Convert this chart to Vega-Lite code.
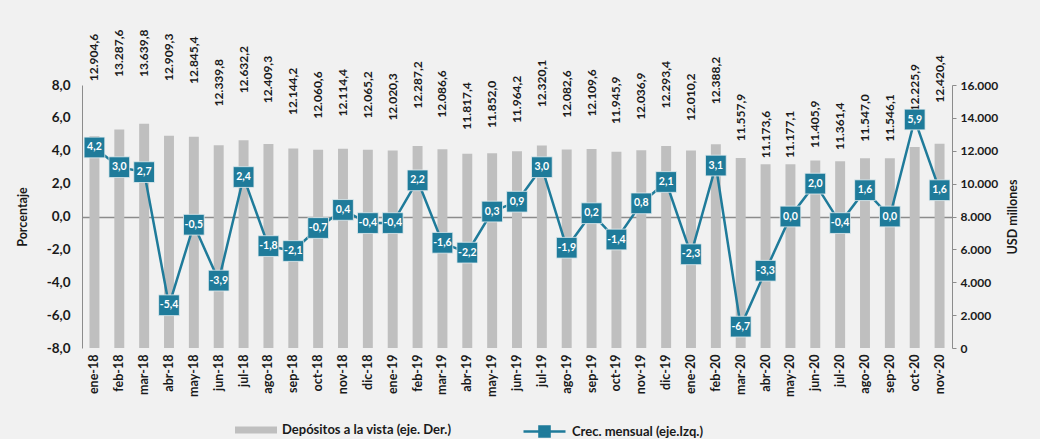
{
  "$schema": "https://vega.github.io/schema/vega-lite/v6.json",
  "width": 870,
  "height": 263,
  "autosize": {"type": "none"},
  "padding": {"left": 82, "top": 85, "right": 88, "bottom": 91},
  "background": "#f1f1f1",
  "config": {
    "locale": {"number": {"decimal": ",", "thousands": ".", "grouping": [3], "currency": ["$", ""], "minus": "-"}},
    "view": {"stroke": null},
    "font": "Lato",
    "axis": {"labelFont": "Lato", "labelFontWeight": "bold", "labelColor": "#1a1a1a", "titleFont": "Lato", "titleFontWeight": "bold", "titleColor": "#1a1a1a", "grid": false, "domainColor": "#8c8c8c", "tickColor": "#8c8c8c", "labelOverlap": false},
    "legend": {"labelFont": "Lato", "labelFontWeight": "bold", "labelFontSize": 13, "labelColor": "#1a1a1a", "padding": 0, "labelOffset": 5, "labelLimit": 400}
  },
  "data": {"values": [
    {"mes": "ene-18", "depositos": 12904.6, "crec": 4.2},
    {"mes": "feb-18", "depositos": 13287.6, "crec": 3.0},
    {"mes": "mar-18", "depositos": 13639.8, "crec": 2.7},
    {"mes": "abr-18", "depositos": 12909.3, "crec": -5.4},
    {"mes": "may-18", "depositos": 12845.4, "crec": -0.5},
    {"mes": "jun-18", "depositos": 12339.8, "crec": -3.9},
    {"mes": "jul-18", "depositos": 12632.2, "crec": 2.4},
    {"mes": "ago-18", "depositos": 12409.3, "crec": -1.8},
    {"mes": "sep-18", "depositos": 12144.2, "crec": -2.1},
    {"mes": "oct-18", "depositos": 12060.6, "crec": -0.7},
    {"mes": "nov-18", "depositos": 12114.4, "crec": 0.4},
    {"mes": "dic-18", "depositos": 12065.2, "crec": -0.4},
    {"mes": "ene-19", "depositos": 12020.3, "crec": -0.4},
    {"mes": "feb-19", "depositos": 12287.2, "crec": 2.2},
    {"mes": "mar-19", "depositos": 12086.6, "crec": -1.6},
    {"mes": "abr-19", "depositos": 11817.4, "crec": -2.2},
    {"mes": "may-19", "depositos": 11852.0, "crec": 0.3},
    {"mes": "jun-19", "depositos": 11964.2, "crec": 0.9},
    {"mes": "jul-19", "depositos": 12320.1, "crec": 3.0},
    {"mes": "ago-19", "depositos": 12082.6, "crec": -1.9},
    {"mes": "sep-19", "depositos": 12109.6, "crec": 0.2},
    {"mes": "oct-19", "depositos": 11945.9, "crec": -1.4},
    {"mes": "nov-19", "depositos": 12036.9, "crec": 0.8},
    {"mes": "dic-19", "depositos": 12293.4, "crec": 2.1},
    {"mes": "ene-20", "depositos": 12010.2, "crec": -2.3},
    {"mes": "feb-20", "depositos": 12388.2, "crec": 3.1},
    {"mes": "mar-20", "depositos": 11557.9, "crec": -6.7},
    {"mes": "abr-20", "depositos": 11173.6, "crec": -3.3},
    {"mes": "may-20", "depositos": 11177.1, "crec": 0.0},
    {"mes": "jun-20", "depositos": 11405.9, "crec": 2.0},
    {"mes": "jul-20", "depositos": 11361.4, "crec": -0.4},
    {"mes": "ago-20", "depositos": 11547.0, "crec": 1.6},
    {"mes": "sep-20", "depositos": 11546.1, "crec": 0.0},
    {"mes": "oct-20", "depositos": 12225.9, "crec": 5.9},
    {"mes": "nov-20", "depositos": 12420.4, "crec": 1.6}
  ]},
  "layer": [
    {
      "mark": {"type": "bar"},
      "encoding": {
        "x": {"field": "mes", "type": "nominal", "sort": null, "scale": {"paddingInner": 0.6, "paddingOuter": 0.3}, "axis": {"title": null, "labelAngle": 270, "domain": false, "ticks": false, "labelPadding": 6, "labelFontSize": 12.5}},
        "y": {"field": "depositos", "type": "quantitative", "scale": {"domain": [0, 16000]}, "axis": {"orient": "right", "values": [0, 2000, 4000, 6000, 8000, 10000, 12000, 14000, 16000], "format": ",.0f", "title": "USD millones", "titleAngle": 270, "titleFontSize": 12.5, "labelFontSize": 12, "tickSize": 4, "labelPadding": 4, "titlePadding": 22, "labelOverlap": false}},
        "fill": {"datum": "Depósitos a la vista (eje. Der.)", "scale": {"range": ["#bfbfbf"]}, "legend": {"orient": "none", "legendX": 153, "legendY": 324, "title": null, "symbolType": "M-1,-0.17H1V0.17H-1Z", "symbolSize": 1764, "symbolStrokeWidth": 0}}
      }
    },
    {
      "mark": {"type": "text", "angle": 270, "align": "left", "baseline": "middle", "dx": 8, "fontSize": 12, "fontWeight": "bold", "color": "#1a1a1a"},
      "encoding": {
        "x": {"field": "mes", "type": "nominal", "sort": null},
        "y": {"field": "depositos", "type": "quantitative", "scale": {"domain": [7090, 13000], "clamp": true}, "axis": null},
        "text": {"field": "depositos", "type": "quantitative", "format": ",.1f"}
      }
    },
    {
      "encoding": {
        "x": {"field": "mes", "type": "nominal", "sort": null},
        "y": {"field": "crec", "type": "quantitative", "scale": {"domain": [-8, 8]}, "axis": {"orient": "left", "title": "Porcentaje", "values": [-8, -6, -4, -2, 0, 2, 4, 6, 8], "tickCount": 9, "format": ".1f", "ticks": false, "labelFontSize": 13.5, "titleFontSize": 12.5, "labelPadding": 12, "titlePadding": 17, "labelOverlap": false, "labelSeparation": 0, "grid": true, "gridWidth": 1.5, "gridColor": {"condition": {"test": "datum.value === 0", "value": "#8c8c8c"}, "value": "transparent"}}}
      },
      "layer": [
        {
          "mark": {"type": "line", "strokeWidth": 2.5},
          "encoding": {
            "stroke": {"datum": "Crec. mensual (eje.Izq.)", "scale": {"range": ["#1F7B9A"]}, "legend": {"orient": "none", "legendX": 440, "legendY": 324, "title": null, "symbolType": "M-1,0H1M-0.24,-0.24H0.24V0.24H-0.24Z", "symbolSize": 1764, "symbolStrokeWidth": 2.5, "encode": {"symbols": {"update": {"fill": {"value": "#1F7B9A"}}}}}}
          }
        },
        {
          "mark": {"type": "square", "size": 430, "color": "#1F7B9A", "filled": true, "opacity": 1, "stroke": "#e3ecef", "strokeWidth": 0.8}
        },
        {
          "mark": {"type": "text", "color": "white", "fontWeight": "bold", "fontSize": 10.5, "baseline": "middle", "align": "center"},
          "encoding": {
            "text": {"field": "crec", "type": "quantitative", "format": ".1f"}
          }
        }
      ]
    }
  ],
  "resolve": {"scale": {"y": "independent"}}
}
